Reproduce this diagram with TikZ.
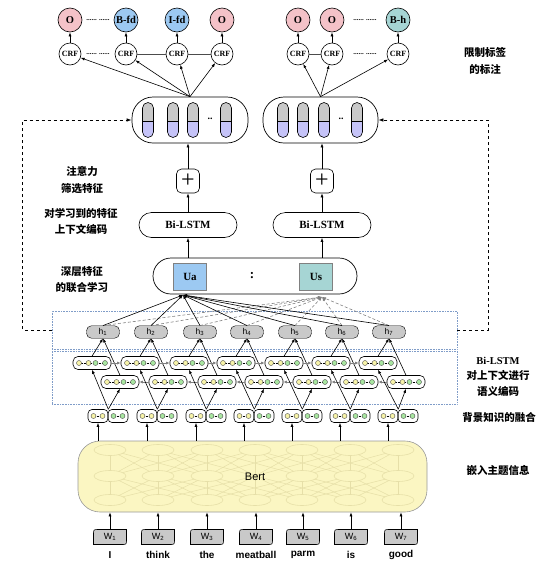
\documentclass[tikz,border=0pt]{standalone}
\usepackage{fontspec}
\setmainfont{Liberation Serif}
\setsansfont{Liberation Sans}
\newfontfamily\cjk{Noto Sans CJK SC}
\usetikzlibrary{arrows.meta,calc}
\definecolor{pinkc}{HTML}{F4C2C8}
\definecolor{bluec}{HTML}{9CC9F2}
\definecolor{tealc}{HTML}{A6D5D4}
\definecolor{greyc}{HTML}{C9C9C9}
\definecolor{lavc}{HTML}{C5C3F8}
\definecolor{bertc}{HTML}{FBF6C2}
\definecolor{bline}{HTML}{E6DFA8}
\definecolor{dotblue}{HTML}{7F9CC8}
\definecolor{yelc}{HTML}{F7F3A8}
\definecolor{grnc}{HTML}{A8E6A0}
\begin{document}
\begin{tikzpicture}[x=1pt,y=-1pt,
  arr/.style={-{Latex[length=4pt,width=3pt]}, line width=0.6pt},
  garr/.style={gray,-{Latex[length=3.5pt,width=3pt]}, line width=0.8pt},
  lab/.style={circle,draw,line width=0.6pt,minimum size=24pt,inner sep=0pt,font=\bfseries\fontsize{10.5}{12}\selectfont},
  crf/.style={circle,draw,line width=0.6pt,minimum size=22pt,inner sep=0pt,font=\bfseries\fontsize{8}{9}\selectfont},
  vec/.style={draw,line width=0.7pt,rounded corners=21pt,minimum width=116pt,minimum height=46pt},
  plusbox/.style={draw,line width=0.6pt,rounded corners=5pt,minimum width=23pt,minimum height=24pt,inner sep=0pt,font=\fontsize{24}{24}\selectfont},
  lstm/.style={draw,line width=0.6pt,rounded corners=12.5pt,minimum width=98pt,minimum height=25pt,font=\bfseries\fontsize{11}{12}\selectfont},
  ubox/.style={draw=gray,minimum width=33pt,minimum height=27pt,font=\bfseries\fontsize{11}{12}\selectfont},
  hnode/.style={draw,fill=greyc,rounded corners=5pt,minimum width=33pt,minimum height=12.5pt,inner sep=0pt,font=\sffamily\fontsize{8.5}{9}\selectfont},
  cell/.style={draw,line width=0.6pt,rounded corners=5pt,minimum width=38pt,minimum height=13pt,inner sep=0pt},
  half/.style={draw,line width=0.6pt,rounded corners=4pt,minimum width=20pt,minimum height=13pt,inner sep=0pt},
  wnode/.style={minimum width=33pt,minimum height=15pt,inner sep=0pt,font=\sffamily\fontsize{9}{10}\selectfont},
  word/.style={font=\sffamily\bfseries\fontsize{10}{12}\selectfont},
  cjklab/.style={font=\cjk\bfseries\fontsize{10.5}{16.5}\selectfont,align=center},
  dotbox/.style={draw=dotblue,densely dotted,line width=0.6pt},
  fb/.style={dashed,line width=0.7pt,-{Latex[length=5pt,width=3.5pt]}},
  gdash/.style={gray,dash pattern=on 3pt off 2pt,line width=0.6pt,-{Latex[length=4pt,width=3pt]}},
  smc/.style={line width=0.4pt,draw=black!70},
  dotsn/.style={font=\bfseries\fontsize{7}{7}\selectfont},
]
\useasboundingbox (0,0) rectangle (555,563);

% ---------- top left labels ----------
\node[lab,fill=pinkc] (o1) at (70,20) {O};
\node[lab,fill=bluec] (o2) at (126,20) {B-fd};
\node[lab,fill=bluec] (o3) at (177,20) {I-fd};
\node[lab,fill=pinkc] (o4) at (222,20) {O};
\node[crf] (c1) at (70,54) {CRF};
\node[crf] (c2) at (126,54) {CRF};
\node[crf] (c3) at (177,54) {CRF};
\node[crf] (c4) at (222,54) {CRF};
\node[dotsn] (d1) at (98,20) {...... ......};
\node[dotsn] (d2) at (98,54) {...... ......};
\foreach \i in {1,...,4} \draw[arr] (c\i) -- (o\i);
\draw[line width=0.7pt,black!70] (c2) -- (c3) -- (c4);

% ---------- top right labels ----------
\node[lab,fill=pinkc] (q1) at (298,20) {O};
\node[lab,fill=pinkc] (q2) at (332,20) {O};
\node[lab,fill=tealc] (q3) at (398,20) {B-h};
\node[crf] (k1) at (298,54) {CRF};
\node[crf] (k2) at (332,54) {CRF};
\node[crf] (k3) at (398,54) {CRF};
\node[dotsn] (d3) at (365,20) {...... ......};
\node[dotsn] (d4) at (365,54) {...... ......};
\foreach \i in {1,2,3} \draw[arr] (k\i) -- (q\i);
\draw[line width=0.7pt,black!70] (k1) -- (k2);

% ---------- vector boxes ----------
\node[vec] (vl) at (190,120) {};
\node[vec,minimum width=115pt] (vr) at (320.5,120) {};
\foreach \x in {148,173,193,226,283,303,324,357} {
  \begin{scope}
    \clip[rounded corners=5.5pt] (\x-5.5,102.5) rectangle (\x+5.5,137.5);
    \fill[greyc] (\x-6,102) rectangle (\x+6,121);
    \fill[lavc] (\x-6,121) rectangle (\x+6,138);
  \end{scope}
  \draw[line width=0.6pt,rounded corners=5.5pt] (\x-5.5,102.5) rectangle (\x+5.5,137.5);
  \draw[line width=0.5pt] (\x-5.5,121) -- (\x+5.5,121);
}
\node[font=\bfseries\fontsize{10}{10}\selectfont] (dd1) at (210,119) {..};
\node[font=\bfseries\fontsize{10}{10}\selectfont] (dd2) at (341,119) {..};
\foreach \n in {c1,c2,c3,c4} \draw[arr] (vl.north) -- (\n);
\foreach \n in {k1,k2,k3} \draw[arr] (vr.north) -- (\n);

% ---------- plus / lstm / joint ----------
\node[plusbox] (p1) at (188,181) {+};
\node[plusbox] (p2) at (322,181) {+};
\draw[arr] (p1) -- (p1 |- vl.south);
\draw[arr] (p2) -- (p2 |- vr.south);
\node[lstm] (b1) at (188,225) {Bi-LSTM};
\node[lstm] (b2) at (322,225) {Bi-LSTM};
\draw[arr] (b1) -- (p1);
\draw[arr] (b2) -- (p2);
\node[draw,line width=0.7pt,rounded corners=18pt,minimum width=204pt,minimum height=36pt] (jj) at (255,276) {};
\node[ubox,fill=bluec] (ua) at (190,277) {Ua};
\node[ubox,fill=tealc] (us) at (316,277) {Us};
\node[font=\bfseries\fontsize{13}{13}\selectfont] (colon) at (252,276) {:};
\draw[arr] (b1 |- jj.north) -- (b1);
\draw[arr] (b2 |- jj.north) -- (b2);

% ---------- h layer ----------
\coordinate (uain) at (183,295);
\coordinate (usin) at (322,297);
\node[dotbox,minimum width=405pt,minimum height=38pt] (hbox) at (254.5,330) {};
\node[dotbox,minimum width=405pt,minimum height=53pt] (lbox) at (254.5,377.5) {};
\draw[fb] (hbox.west) -- ++(-29,0) |- (vl.west);
\draw[fb] (hbox.east) -- ++(31,0) |- (vr.east);
\foreach \x [count=\i] in {103,151,200,247,295,342,389}
  \node[hnode] (h\i) at (\x,332) {h\textsubscript{\i}};
\foreach \i in {1,...,7} \draw[gdash] (h\i.north) -- (usin);
\foreach \i in {1,...,7} \draw[arr] (h\i.north) -- (uain);

% ---------- Bi-LSTM cells ----------
\foreach \x [count=\i] in {103,151,200,247,295,342,389} {
  \node[cell] (f\i) at (\x-11,363) {};
  \node[cell] (g\i) at (\x+17,382) {};
}
\foreach \i in {1,...,7} {
  \foreach \c in {f\i,g\i} {
    \draw[densely dotted,line width=0.5pt] ($(\c.center)+(-13,0)$) -- ($(\c.center)+(13,0)$);
    \filldraw[smc,fill=yelc] ($(\c.center)+(-13,0)$) circle (2.5pt);
    \filldraw[smc,fill=yelc] ($(\c.center)+(-3.5,0)$) circle (2.5pt);
    \filldraw[smc,fill=grnc] ($(\c.center)+(3.5,0)$) circle (2.5pt);
    \filldraw[smc,fill=grnc] ($(\c.center)+(13,0)$) circle (2.5pt);
  }
  \draw[arr] (f\i.north) -- (h\i.south);
  \draw[arr] (g\i.north) -- (h\i.south);
}
\foreach \i/\j in {1/2,2/3,3/4,4/5,5/6,6/7} {
  \draw[garr] (f\i.east) -- (f\j.west);
  \draw[garr] (g\j.west) -- (g\i.east);
}

% ---------- concat nodes ----------
\foreach \x [count=\i] in {108,157,206,254,302,350,398} {
  \node[half] (cy\i) at (\x-10,416) {};
  \node[half] (cg\i) at (\x+10,416) {};
  \draw[densely dotted,line width=0.5pt] ($(cy\i.center)+(-4.5,0)$) -- ($(cy\i.center)+(4.5,0)$);
  \draw[densely dotted,line width=0.5pt] ($(cg\i.center)+(-4.5,0)$) -- ($(cg\i.center)+(4.5,0)$);
  \filldraw[smc,fill=yelc] ($(cy\i.center)+(-4.5,0)$) circle (2.5pt);
  \filldraw[smc,fill=yelc] ($(cy\i.center)+(4.5,0)$) circle (2.5pt);
  \filldraw[smc,fill=grnc] ($(cg\i.center)+(-4.5,0)$) circle (2.5pt);
  \filldraw[smc,fill=grnc] ($(cg\i.center)+(4.5,0)$) circle (2.5pt);
  \draw[arr] (cy\i.north east) -- (f\i.south);
  \draw[arr] (cy\i.north east) -- (g\i.south);
}

% ---------- Bert ----------
\node[draw=gray!80,fill=bertc,rounded corners=22pt,minimum width=349pt,minimum height=71pt,line width=0.6pt] (bert) at (252.5,476.5) {};
\foreach \xa [count=\i] in {110,158,207,255,302,350,398} {
  \foreach \xb [count=\j] in {110,158,207,255,302,350,398} {
    \pgfmathtruncatemacro{\dd}{abs(\i-\j)}
    \ifnum\dd<3
      \draw[bline,line width=0.5pt] (\xa,450) -- (\xb,476);
      \draw[bline,line width=0.5pt] (\xa,476) -- (\xb,500);
    \fi
  }
}
\foreach \x in {110,158,207,255,302,350,398} {
  \filldraw[bline,fill=bertc,line width=0.6pt] (\x,450) ellipse (16pt and 5.5pt);
  \filldraw[bline,fill=bertc,line width=0.6pt] (\x,500) ellipse (16pt and 5.5pt);
}
\foreach \x in {110,158,207,302,350,398}
  \filldraw[bline,fill=bertc,line width=0.6pt] (\x,476) ellipse (16pt and 5.5pt);
\node[font=\sffamily\fontsize{11}{12}\selectfont] (berttxt) at (255,477) {Bert};
\foreach \i in {1,...,7} \draw[arr] (cy\i.south |- bert.north) -- (cy\i.south);

% ---------- words ----------
\foreach \x/\w [count=\i] in {110/I,158/think,207/the,256/meatball,303/parm,351/is,401/good} {
  \filldraw[fill=greyc,line width=0.6pt] (\x-16.5,544.5) -- (\x-16.5,534.5) .. controls (\x-16.5,529.5) .. (\x-11.5,529.5) -- (\x+16.5,529.5) -- (\x+16.5,539.5) .. controls (\x+16.5,544.5) .. (\x+11.5,544.5) -- cycle;
  \node[wnode] (w\i) at (\x,537) {W\textsubscript{\i}};
  \node[word] (t\i) at (\x,555) {\w};
  \draw[arr] (w\i.north) -- (w\i.north |- bert.south);
}

% ---------- side labels ----------
\node[cjklab] (l1) at (485,61) {限制标签\\的标注};
\node[cjklab] (l2) at (82,180) {注意力\\筛选特征};
\node[cjklab] (l3) at (81,221.5) {对学习到的特征\\上下文编码};
\node[cjklab] (l4) at (82,279.5) {深层特征\\的联合学习};
\node[cjklab,font=\cjk\bfseries\fontsize{10.5}{15.5}\selectfont] (l5) at (498,376.5) {{\rmfamily\bfseries Bi-LSTM}\\对上下文进行\\语义编码};
\node[cjklab] (l6) at (499,417) {背景知识的融合};
\node[cjklab] (l7) at (498,470) {嵌入主题信息};
\end{tikzpicture}
\end{document}
